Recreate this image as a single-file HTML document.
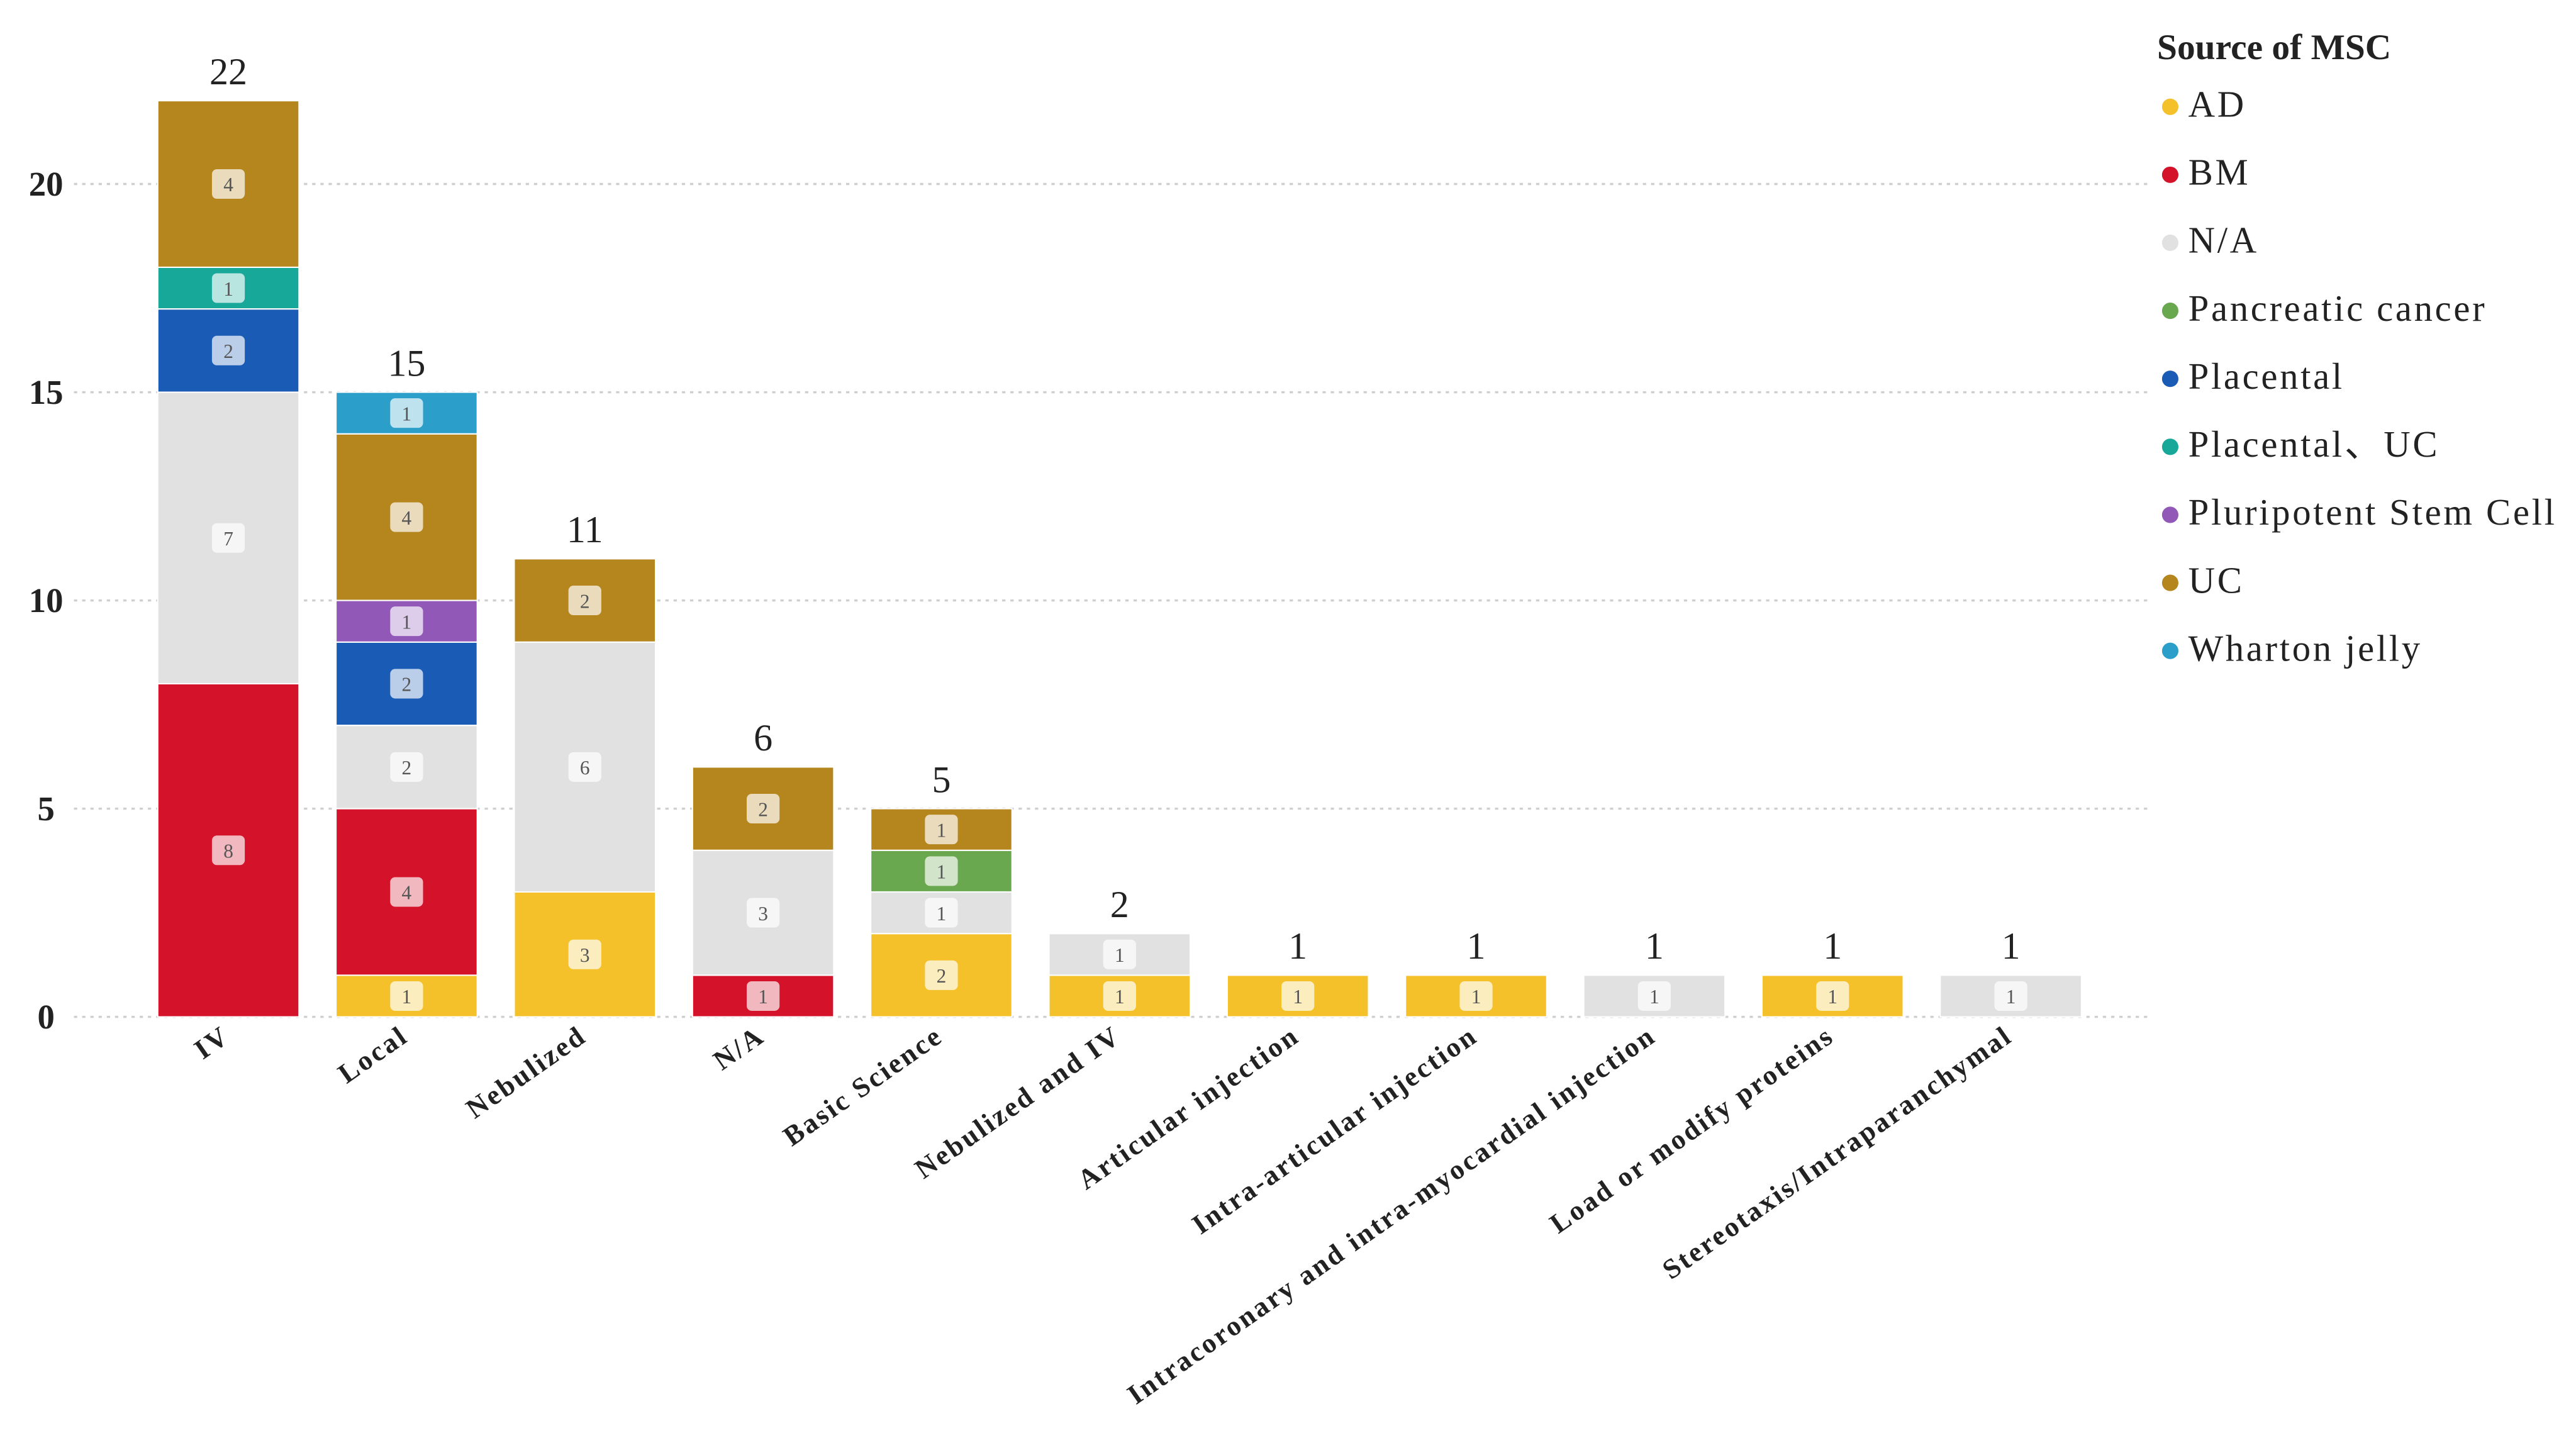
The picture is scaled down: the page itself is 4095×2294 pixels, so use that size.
<!DOCTYPE html>
<html><head><meta charset="utf-8"><style>
html,body{margin:0;padding:0;background:#fff;}
svg{display:block;}
text{font-family:"Liberation Serif",serif;}
</style></head><body>
<svg id="chart" width="4095" height="2294" viewBox="0 0 1568 878.4" xmlns="http://www.w3.org/2000/svg"></svg>
<script>
const categories=["IV","Local","Nebulized","N/A","Basic Science","Nebulized and IV","Articular injection","Intra-articular injection","Intracoronary and intra-myocardial injection","Load or modify proteins","Stereotaxis/Intraparanchymal"];
const seriesNames=["AD","BM","N/A","Pancreatic cancer","Placental","Placental、UC","Pluripotent Stem Cell","UC","Wharton jelly"];
const seriesColors=["#f5c12a","#d4122a","#e1e1e1","#6aa84f","#1a5bb5","#17a89a","#9158b8","#b5861e","#2b9fc9"];
const AD=[0,1,3,0,2,1,1,1,0,1,0];
const BM=[8,4,0,1,0,0,0,0,0,0,0];
const NA=[7,2,6,3,1,1,0,0,1,0,1];
const PANC=[0,0,0,0,1,0,0,0,0,0,0];
const PLAC=[2,2,0,0,0,0,0,0,0,0,0];
const PLACUC=[1,0,0,0,0,0,0,0,0,0,0];
const PLURI=[0,1,0,0,0,0,0,0,0,0,0];
const UC=[4,4,2,2,1,0,0,0,0,0,0];
const WJ=[0,1,0,0,0,0,0,0,0,0,0];
const yTicks=[0,5,10,15,20];

const series=[AD,BM,NA,PANC,PLAC,PLACUC,PLURI,UC,WJ];
const NS="http://www.w3.org/2000/svg";
const svg=document.getElementById('chart');
const y0=619,unit=25.35,x0=139,step=108.5,bw=86;
const yScale=v=>y0-v*unit;
const xScale=i=>x0+i*step;
function mk(tag,attrs,parent){const e=document.createElementNS(NS,tag);for(const k in attrs)e.setAttribute(k,attrs[k]);(parent||svg).appendChild(e);return e;}

yTicks.forEach(t=>{
  const g=mk('line',{x1:45,x2:1310,y1:yScale(t),y2:yScale(t),stroke:'#cfcfcf','stroke-width':1.3,'stroke-dasharray':'2,3'});
  
  
  const tx=mk('text',{x:28,y:yScale(t)+7,'text-anchor':'middle','font-size':21,'font-weight':'bold',fill:'#222'});
  tx.textContent=t;
  
  
});

categories.forEach((c,i)=>{
  let acc=0;const cx=xScale(i);
  series.forEach((s,k)=>{
    const v=s[i];if(!v)return;
    const top=yScale(acc+v),bot=yScale(acc);
    const r=mk('rect',{x:cx-bw/2,y:top,width:bw,height:bot-top,fill:seriesColors[k],stroke:'#fff','stroke-width':0.8});
    
    
    const my=(top+bot)/2;
    const b=mk('rect',{x:cx-10,y:my-9,width:20,height:18,rx:3,fill:'#fff','fill-opacity':0.7});
    
    
    const t=mk('text',{x:cx,y:my+4.5,'text-anchor':'middle','font-size':12,fill:'#555'});
    t.textContent=v;
    
    
    acc+=v;
  });
  const tot=mk('text',{x:cx,y:yScale(acc)-10,'text-anchor':'middle','font-size':23,fill:'#222'});
  tot.textContent=acc;
  
  
  const lab=mk('text',{x:cx+2,y:633,'text-anchor':'end','font-size':17,'font-weight':'bold','letter-spacing':1.3,fill:'#222',transform:`rotate(-35 ${cx+2} 633)`});
  lab.textContent=c;
  
  
});

const lt=mk('text',{x:1313,y:36,'font-size':22,'font-weight':'bold',fill:'#222'});
lt.textContent="Source of MSC";


seriesNames.forEach((n,k)=>{
  const cy=64+k*41.4;
  const d=mk('circle',{cx:1321,cy:cy+1,r:5,fill:seriesColors[k]});
  
  
  const t=mk('text',{x:1332,y:cy+7,'font-size':22.5,'letter-spacing':1.4,fill:'#222'});
  t.textContent=n;
  
  
});
</script>
</body></html>
